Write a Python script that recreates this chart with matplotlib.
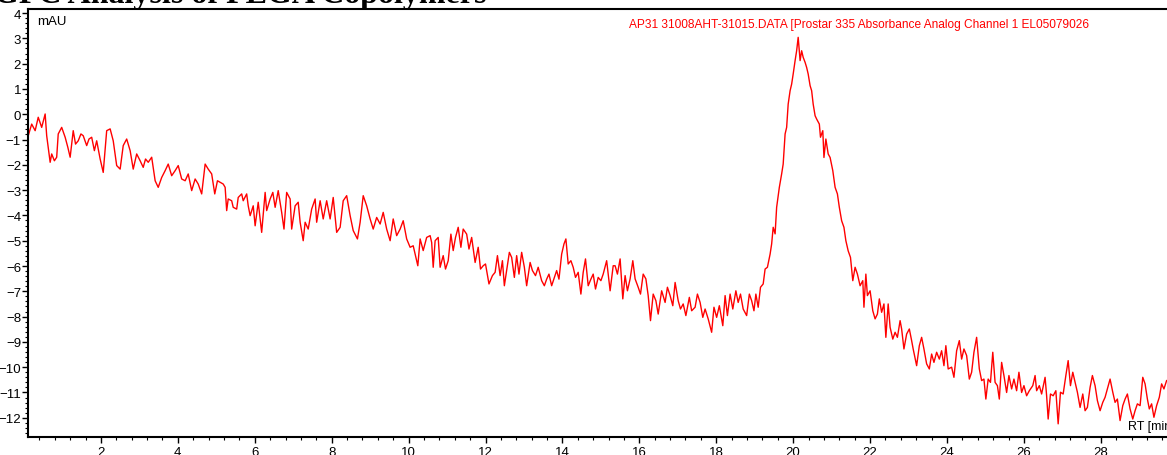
#!/usr/bin/env python3
"""Chromatogram trace: Prostar 335 absorbance channel, RT vs mAU"""
import matplotlib
matplotlib.use('Agg')
import matplotlib.pyplot as plt
from matplotlib.ticker import MultipleLocator

plt.rcParams['font.family'] = ['Liberation Sans', 'DejaVu Sans']

# retention time (min)
rt_min = [
    0.11, 0.20, 0.29, 0.37, 0.46, 0.55, 0.59, 0.68, 0.72, 0.79, 0.85, 0.89, 0.98, 1.07, 1.14, 1.20,
    1.28, 1.34, 1.41, 1.48, 1.54, 1.63, 1.69, 1.76, 1.83, 1.89, 1.98, 2.06, 2.15, 2.24, 2.32, 2.41,
    2.50, 2.58, 2.67, 2.76, 2.84, 2.93, 3.02, 3.10, 3.16, 3.23, 3.32, 3.41, 3.49, 3.58, 3.67, 3.75,
    3.84, 3.93, 4.01, 4.10, 4.19, 4.27, 4.36, 4.45, 4.53, 4.62, 4.71, 4.79, 4.88, 4.96, 5.03,
    5.18, 5.23, 5.27, 5.31, 5.40, 5.44, 5.53, 5.57, 5.66, 5.70, 5.79, 5.83, 5.88, 5.96, 6.01, 6.09,
    6.18, 6.27, 6.31, 6.40, 6.47, 6.53, 6.61, 6.70, 6.76, 6.83, 6.92, 6.96, 7.05, 7.13, 7.18, 7.26,
    7.31, 7.39, 7.48, 7.57, 7.61, 7.70, 7.78, 7.87, 7.96, 8.04, 8.13, 8.22, 8.30, 8.39, 8.48, 8.56,
    8.67, 8.74, 8.82, 8.91, 9.00, 9.08, 9.17, 9.26, 9.34, 9.43, 9.52, 9.60, 9.69, 9.78, 9.86, 9.95,
    10.04, 10.12,
    10.24, 10.30, 10.38, 10.47, 10.56, 10.60, 10.64, 10.69, 10.77, 10.82, 10.90, 10.96, 11.03, 11.10,
    11.16, 11.22, 11.29, 11.36, 11.42, 11.51, 11.57, 11.64, 11.73, 11.81, 11.87, 11.94, 12.00, 12.09,
    12.18, 12.25, 12.31, 12.38, 12.44, 12.49, 12.55, 12.62, 12.68, 12.75, 12.81, 12.87, 12.94, 13.01,
    13.07, 13.16, 13.22, 13.30, 13.37, 13.46, 13.53, 13.59, 13.65, 13.72, 13.79, 13.85, 13.91, 13.98,
    14.04, 14.09, 14.15, 14.22, 14.28, 14.34, 14.41, 14.48, 14.54, 14.60, 14.67, 14.74, 14.80, 14.86,
    14.93, 15.00, 15.06, 15.15, 15.24, 15.32,
    15.37, 15.43, 15.50, 15.57, 15.63, 15.69, 15.76, 15.83, 15.89, 15.97, 16.03, 16.10, 16.17, 16.23,
    16.29, 16.36, 16.43, 16.49, 16.58, 16.67, 16.73, 16.80, 16.87, 16.93, 17.01, 17.07, 17.14, 17.21,
    17.30, 17.36, 17.45, 17.51, 17.58, 17.65, 17.71, 17.79, 17.88, 17.94, 18.01, 18.08, 18.17, 18.23,
    18.29, 18.36, 18.43, 18.51, 18.57, 18.63, 18.70, 18.79, 18.86,
    18.92, 18.98, 19.03, 19.09, 19.15, 19.22, 19.27, 19.33, 19.40, 19.44, 19.48, 19.53, 19.57, 19.64,
    19.70, 19.74, 19.79, 19.83, 19.87, 19.92, 19.96, 20.00, 20.05, 20.09, 20.13, 20.18, 20.22, 20.26,
    20.31, 20.35, 20.39, 20.44, 20.48, 20.52, 20.57, 20.61, 20.68, 20.71, 20.77, 20.80, 20.85, 20.91,
    20.96, 21.03, 21.09, 21.15, 21.20, 21.26, 21.32, 21.37, 21.43, 21.49, 21.55, 21.61, 21.67,
    21.74, 21.81, 21.84, 21.89, 21.93, 22.00, 22.07, 22.13, 22.19, 22.24, 22.30, 22.36, 22.41, 22.47,
    22.52, 22.59, 22.65, 22.71, 22.78, 22.82, 22.88, 22.95, 23.02, 23.08, 23.12, 23.21, 23.28, 23.34,
    23.40, 23.47, 23.54, 23.60, 23.66, 23.73, 23.80, 23.86, 23.92, 23.97, 24.03, 24.12, 24.18, 24.25,
    24.32, 24.38, 24.44, 24.51, 24.58, 24.64, 24.70, 24.77, 24.84, 24.90, 24.96, 25.01, 25.07, 25.13,
    25.19, 25.25, 25.31, 25.36, 25.42, 25.48, 25.55, 25.61, 25.68, 25.74, 25.81, 25.87, 25.94, 26.00,
    26.07, 26.14,
    26.23, 26.29, 26.33, 26.40, 26.46, 26.55, 26.59, 26.63, 26.69, 26.76, 26.83, 26.89, 26.95, 27.02,
    27.09, 27.15, 27.21, 27.27, 27.33, 27.39, 27.46, 27.53, 27.59, 27.65, 27.72, 27.78, 27.85, 27.91,
    27.98, 28.05, 28.11, 28.17, 28.24, 28.31, 28.37, 28.43, 28.50, 28.57, 28.63, 28.69, 28.76, 28.83,
    28.89, 28.95, 29.02, 29.09, 29.15, 29.21, 29.26, 29.32, 29.38, 29.45, 29.52, 29.58, 29.64, 29.71,
]

# absorbance (mAU)
signal_mau = [
    -0.85, -0.39, -0.65, -0.12, -0.52, 0.01, -0.85, -1.90, -1.57, -1.84, -1.70, -0.78, -0.52, -0.91, -1.31, -1.70,
    -0.65, -1.18, -1.05, -0.78, -0.85, -1.24, -0.98, -0.91, -1.44, -1.05, -1.77, -2.30, -0.65, -0.58, -1.05, -2.03,
    -2.17, -1.24, -0.98, -1.44, -2.17, -1.57, -1.84, -2.10, -1.77, -1.90, -1.70, -2.63, -2.89, -2.50, -2.23, -1.97,
    -2.43, -2.23, -2.03, -2.56, -2.63, -2.36, -3.02, -2.56, -2.76, -3.15, -1.97, -2.17, -2.36, -3.15, -2.63,
    -2.76, -2.89, -3.81, -3.35, -3.42, -3.68, -3.75, -3.29, -3.15, -3.42, -3.15, -3.62, -4.01, -3.62, -4.41, -3.48,
    -4.67, -3.09, -3.81, -3.35, -3.09, -3.68, -3.02, -3.88, -4.54, -3.09, -3.35, -4.54, -3.62, -3.48, -4.27, -5.00,
    -4.27, -4.54, -3.75, -3.35, -4.27, -3.42, -4.14, -3.42, -4.14, -3.29, -4.67, -4.47, -3.42, -3.22, -4.01, -4.60,
    -4.93, -4.27, -3.22, -3.62, -4.14, -4.54, -4.08, -4.34, -3.88, -4.54, -5.00, -4.14, -4.80, -4.54, -4.21, -4.93,
    -5.26, -5.20,
    -5.99, -4.93, -5.39, -4.87, -4.80, -5.07, -6.05, -5.00, -4.87, -6.05, -5.59, -6.12, -5.79, -4.74,
    -5.39, -4.87, -4.47, -5.26, -4.54, -4.74, -5.33, -4.87, -5.86, -5.26, -6.12, -5.99, -5.92, -6.71,
    -6.38, -6.25, -5.59, -6.38, -5.79, -6.78, -6.18, -5.46, -5.66, -6.45, -5.59, -6.32, -5.46, -6.05,
    -6.78, -5.86, -6.18, -6.38, -6.05, -6.58, -6.78, -6.52, -6.32, -6.78, -6.45, -6.18, -6.52, -5.53,
    -5.13, -4.93, -5.92, -5.79, -6.05, -6.45, -6.25, -7.11, -6.25, -5.72, -6.78, -6.52, -6.32, -6.91,
    -6.45, -6.58, -6.32, -5.79, -6.98, -5.99,
    -5.99, -6.32, -5.72, -7.30, -6.38, -6.98, -6.51, -5.79, -6.51, -6.84, -7.11, -6.32, -6.51, -7.17,
    -8.16, -7.11, -7.37, -7.90, -6.98, -7.44, -6.84, -7.17, -7.57, -6.65, -7.37, -7.70, -7.50, -7.96,
    -7.24, -7.77, -7.63, -7.11, -7.44, -8.03, -7.70, -8.09, -8.62, -7.63, -8.03, -7.57, -8.36, -7.17,
    -7.96, -7.11, -7.70, -6.98, -7.44, -7.11, -7.70, -7.96, -7.11,
    -7.37, -7.77, -7.11, -7.63, -6.84, -6.71, -6.12, -6.05, -5.53, -5.13, -4.47, -4.73, -3.68, -2.89,
    -2.36, -1.97, -0.78, -0.52, 0.40, 0.93, 1.19, 1.59, 2.12, 2.51, 3.04, 2.12, 2.51, 2.25,
    2.05, 1.85, 1.59, 1.13, 0.93, 0.40, -0.06, -0.19, -0.39, -0.91, -0.65, -1.71, -0.98, -1.57,
    -1.71, -2.23, -2.89, -3.15, -3.68, -4.21, -4.47, -5.00, -5.40, -5.66, -6.58, -6.05, -6.32,
    -6.78, -6.58, -7.63, -6.32, -7.17, -6.98, -7.77, -8.09, -7.90, -7.30, -7.83, -7.50, -8.82, -7.50,
    -8.42, -8.89, -8.62, -8.82, -8.16, -8.49, -9.28, -8.69, -8.49, -8.95, -9.28, -9.94, -9.15, -8.82,
    -9.28, -9.87, -10.07, -9.48, -9.81, -9.41, -9.68, -9.35, -9.94, -9.15, -10.07, -10.00, -10.40, -9.35,
    -8.95, -9.68, -9.28, -9.54, -10.47, -10.20, -9.41, -8.82, -10.07, -10.53, -10.47, -11.26, -10.47, -10.60,
    -9.41, -10.60, -10.73, -11.26, -9.81, -10.33, -11.00, -10.33, -10.86, -10.47, -10.93, -10.20, -11.00, -10.73,
    -11.13, -10.93,
    -10.73, -10.33, -10.93, -10.73, -11.06, -10.40, -11.13, -12.05, -11.06, -11.13, -10.93, -12.24, -10.99, -11.06,
    -10.33, -9.74, -10.73, -10.20, -10.60, -10.99, -11.59, -11.06, -11.72, -11.59, -10.80, -10.33, -10.73, -11.32,
    -11.72, -11.39, -11.19, -10.86, -10.47, -10.99, -11.39, -11.26, -12.11, -11.52, -11.26, -11.06, -11.65, -12.05,
    -11.72, -11.45, -11.52, -10.40, -10.66, -11.26, -11.65, -11.45, -11.98, -11.52, -11.19, -10.66, -10.86, -10.53,
]

x_major = [2, 4, 6, 8, 10, 12, 14, 16, 18, 20, 22, 24, 26, 28]
y_major = list(range(-12, 5))

trace_label = 'AP31 31008AHT-31015.DATA [Prostar 335 Absorbance Analog Channel 1 EL05079026'
title_text = 'GPC Analysis of PLGA Copolymers'

assert len(rt_min) == len(signal_mau)

fig = plt.figure(figsize=(11.67, 4.56), dpi=100)
ax = fig.add_axes([28 / 1167, 18 / 456, 1139 / 1167, 428 / 456])

ax.plot(rt_min, signal_mau, color='#ff0000', lw=1.0)

ax.set_xlim(0.104, 29.72)
ax.set_ylim(-12.76, 4.16)

# 坐标轴样式
ax.spines['right'].set_visible(False)
for s in ['left', 'bottom', 'top']:
    ax.spines[s].set_linewidth(1.5)

ax.set_xticks(x_major)
ax.set_yticks(y_major)
ax.xaxis.set_minor_locator(MultipleLocator(0.4))
ax.yaxis.set_minor_locator(MultipleLocator(0.2))
ax.tick_params(axis='both', which='major', direction='out', length=4.5, width=1.0,
               labelsize=9.5, colors='black')
ax.tick_params(axis='x', which='major', pad=2)
ax.tick_params(axis='y', which='major', pad=0.5)
ax.tick_params(axis='both', which='minor', direction='out', length=2.5, width=0.8)

# 单位 / 图例文字
ax.text(0.008, 0.986, 'mAU', transform=ax.transAxes, ha='left', va='top', fontsize=9.5)
ax.text(0.966, 0.026, 'RT [min]', transform=ax.transAxes, ha='left', va='center',
        fontsize=9, clip_on=False)
ax.text(0.730, 0.966, trace_label, transform=ax.transAxes, ha='center', va='center',
        fontsize=8.55, color='#ff0000')

# 顶部被裁掉的大标题
fig.text(-0.005, 0.994, title_text, ha='left', va='baseline', fontsize=23,
         weight='bold', family=['Liberation Serif', 'DejaVu Serif'])

plt.savefig('out.png', dpi=100, facecolor='white')
plt.close()
